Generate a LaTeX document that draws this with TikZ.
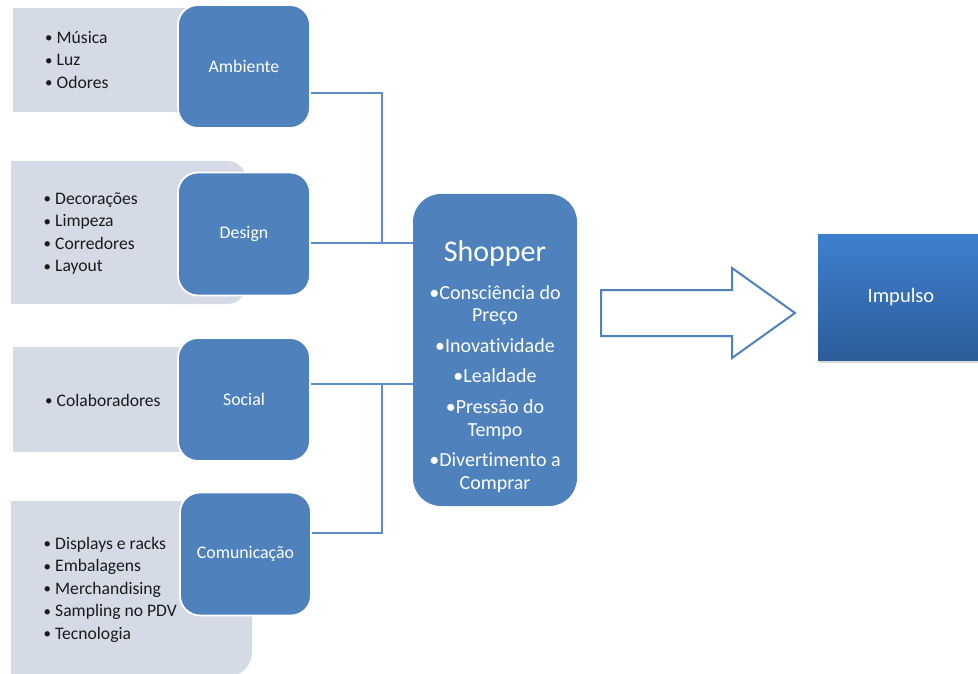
\documentclass[tikz,border=0pt]{standalone}
\usepackage{fontspec}
\setmainfont{Carlito}[Ligatures=NoCommon]
\usetikzlibrary{shadows,calc}

\definecolor{accent}{HTML}{4F81BD}
\definecolor{listbg}{HTML}{D4DBE7}
\definecolor{linkblue}{HTML}{5E8CC8}
\definecolor{ink}{HTML}{1A1A1A}
\definecolor{imptop}{HTML}{3E80CE}
\definecolor{impbot}{HTML}{2D5C9A}

\newcommand\bul[1]{\strut\makebox[11.5pt][l]{\raisebox{0.5pt}{\scalebox{0.85}{•}}}#1}

\tikzset{
  catbox/.style={draw=white, line width=1.8pt, fill=accent, rounded corners=20pt,
    minimum width=132pt, minimum height=123pt, text=white, inner sep=0pt,
    font=\fontsize{17.8}{20}\selectfont},
  listtext/.style={anchor=north west, align=left, inner sep=0pt, text=ink,
    font=\fontsize{17.6}{22.5}\selectfont},
  link/.style={draw=linkblue, line width=1.3pt},
  bigarrow/.style={draw=accent, line width=2pt, fill=white, line join=miter},
}

\begin{document}
\begin{tikzpicture}[x=1pt,y=-1pt]
  \useasboundingbox (0,0) rectangle (978,674);
  \fill[white] (0,0) rectangle (978,674);

  % light list panels behind the category boxes
  \fill[listbg] (13,8) rectangle (200,112);
  \fill[listbg] (11,161) rectangle (200,304);
  \fill[listbg, rounded corners=20pt] (150,161) rectangle (247,304);
  \fill[listbg] (13,347) rectangle (200,452);
  \fill[listbg] (11,501) rectangle (200,677);
  \fill[listbg, rounded corners=25pt] (150,501) rectangle (252,677);

  % list contents
  \node[listtext] (lamb) at (45,27.5) {\bul{Música}\\\bul{Luz}\\\bul{Odores}};
  \node[listtext] (ldes) at (43.5,188.5) {\bul{Decorações}\\\bul{Limpeza}\\\bul{Corredores}\\\bul{Layout}};
  \node[listtext] (lsoc) at (45,390.5) {\bul{Colaboradores}};
  \node[listtext] (lcom) at (43.5,533.5) {\bul{Displays e racks}\\\bul{Embalagens}\\\bul{Merchandising}\\\bul{Sampling no PDV}\\\bul{Tecnologia}};

  % category boxes
  \node[catbox] (amb) at (244,66.5) {Ambiente};
  \node[catbox] (des) at (244,234) {Design};
  \node[catbox] (soc) at (244,399.5) {Social};
  \node[catbox, minimum width=131pt] (com) at (245.5,554) {Comunicação};

  % junction points of the bracket connectors
  \coordinate (jA) at (382,243);
  \coordinate (jB) at (382,384);

  % central shopper box
  \node[fill=accent, rounded corners=28pt, minimum width=164pt, minimum height=312pt,
        inner sep=0pt] (shopper) at (495,350) {};

  \draw[link] ($(amb.east)+(0,26.5)$) -| (jA);
  \draw[link] (des.east |- jA) -- (shopper.west |- jA);
  \draw[link] ($(com.east)+(0,-21)$) -| (jB);
  \draw[link] (soc.east |- jB) -- (shopper.west |- jB);

  \node[anchor=north, align=center, inner sep=0pt, text=white,
        font=\fontsize{20}{22.8}\selectfont] (shoppertext) at (495,239.5)
    {\rule{0pt}{22pt}{\fontsize{30}{30}\selectfont Shopper}\\[14.5pt]
     •Consciência do\\Preço\\[8pt]
     •Inovatividade\\[7.5pt]
     •Lealdade\\[8pt]
     •Pressão do\\Tempo\\[7.5pt]
     •Divertimento a\\Comprar};

  % block arrow towards the outcome
  \draw[bigarrow] (601,290) -- (732,290) -- (732,268) -- (795,313)
                  -- (732,358) -- (732,336) -- (601,336) -- cycle;

  % outcome box
  \node[top color=imptop, bottom color=impbot, draw=none,
        drop shadow={shadow xshift=1pt, shadow yshift=-3pt, opacity=0.3},
        minimum width=166pt, minimum height=126pt, inner sep=0pt, text=white,
        font=\fontsize{20.5}{22}\selectfont] (impulso) at (901,297) {Impulso};
\end{tikzpicture}
\end{document}
